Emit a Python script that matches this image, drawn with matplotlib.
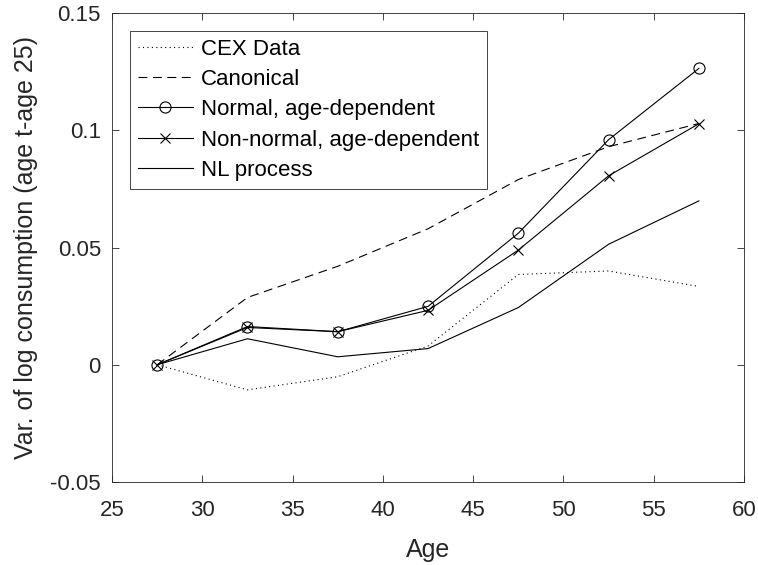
import numpy as np
import matplotlib.pyplot as plt

plt.rcParams['font.family'] = ['Liberation Sans', 'DejaVu Sans']

# age group midpoints
age = [27.5, 32.5, 37.5, 42.5, 47.5, 52.5, 57.5]

# variance of log consumption relative to age 25
cex       = [0.0, -0.0107, -0.0051, 0.0080, 0.0385, 0.0400, 0.0334]
canonical = [0.0, 0.0287, 0.0420, 0.0580, 0.0790, 0.0930, 0.1029]
normal    = [0.0, 0.0163, 0.0141, 0.0249, 0.0561, 0.0960, 0.1264]
nonnormal = [0.0, 0.0159, 0.0141, 0.0232, 0.0489, 0.0806, 0.1028]
nlproc    = [0.0, 0.0111, 0.0034, 0.0069, 0.0244, 0.0514, 0.0699]

grey = '#262626'

fig = plt.figure(figsize=(7.58, 5.65), dpi=100)
ax = fig.add_axes([0.1478, 0.1469, 0.8338, 0.830])

ax.plot(age, cex, color='k', lw=0.8, ls=(0, (1, 3)), label='CEX Data')
ax.plot(age, canonical, color='k', lw=0.8, ls=(0, (8, 5)), label='Canonical')
ax.plot(age, normal, color='k', lw=0.8, marker='o', ms=8, mfc='none',
        mew=0.8, label='Normal, age-dependent')
ax.plot(age, nonnormal, color='k', lw=0.8, marker='x', ms=6.5, mew=0.8,
        label='Non-normal, age-dependent')
ax.plot(age, nlproc, color='k', lw=0.8, label='NL process')

ax.set_xlim(25, 60)
ax.set_ylim(-0.05, 0.15)
ax.set_xticks(np.arange(25, 61, 5))
ax.set_yticks([-0.05, 0, 0.05, 0.1, 0.15])
ax.set_yticklabels(['-0.05', '0', '0.05', '0.1', '0.15'])
ax.tick_params(direction='in', top=True, right=True, labelsize=16, length=5,
               width=0.6, colors=grey)
ax.tick_params(axis='x', pad=13)
ax.tick_params(axis='y', pad=8)
for s in ax.spines.values():
    s.set_linewidth(0.6)
    s.set_color(grey)

ax.set_xlabel('Age', fontsize=18, color=grey, labelpad=12)
ax.set_ylabel('Var. of log consumption (age t-age 25)', fontsize=18,
              color=grey, labelpad=9)

leg = ax.legend(loc='upper left', fontsize=16, fancybox=False, edgecolor=grey,
                framealpha=1, borderaxespad=0.8, handlelength=2.5,
                handletextpad=0.35, labelspacing=0.42, borderpad=0.35)
leg.get_frame().set_linewidth(0.6)

fig.savefig('out.png', dpi=100)
